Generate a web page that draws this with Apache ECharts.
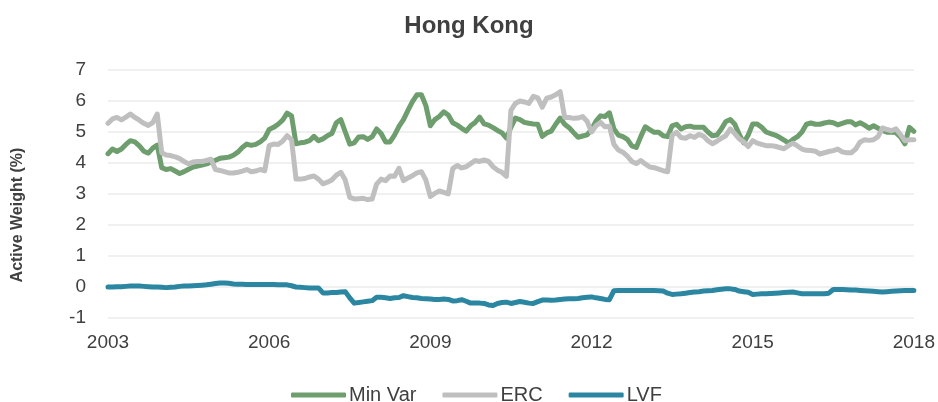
<!DOCTYPE html>
<html>
<head>
<meta charset="utf-8">
<script src="https://cdn.jsdelivr.net/npm/echarts@6/dist/echarts.min.js"></script>
<style>
  html, body { margin: 0; padding: 0; background: #fff; }
  #chart { width: 938px; height: 402px; }
</style>
</head>
<body>
<div id="chart"></div>
<script>
// monthly points, Jan 2003 .. Jan 2018
const months = [];
for (let y = 2003; y <= 2018; y++) {
  for (let m = 1; m <= 12; m++) {
    if (y === 2018 && m > 1) break;
    months.push(y + '-' + String(m).padStart(2, '0'));
  }
}

const minVar = [
  4.30, 4.45, 4.37, 4.45, 4.60, 4.72, 4.68, 4.55, 4.38, 4.32, 4.48, 4.58,
  3.85, 3.79, 3.82, 3.74, 3.66, 3.72, 3.80, 3.87, 3.90, 3.93, 3.97, 4.03,
  4.09, 4.15, 4.17, 4.19, 4.25, 4.35, 4.50, 4.61, 4.57, 4.60, 4.68, 4.80,
  5.08, 5.15, 5.25, 5.38, 5.61, 5.52, 4.62, 4.65, 4.67, 4.72, 4.86, 4.72,
  4.78, 4.88, 4.95, 5.30, 5.40, 5.00, 4.61, 4.65, 4.84, 4.85, 4.76, 4.85,
  5.10, 4.95, 4.68, 4.68, 4.90, 5.18, 5.40, 5.70, 5.98, 6.20, 6.20, 5.85,
  5.20, 5.40, 5.50, 5.65, 5.55, 5.30, 5.22, 5.12, 5.03, 5.20, 5.31, 5.48,
  5.26, 5.22, 5.14, 5.05, 4.97, 4.80, 5.15, 5.45, 5.40, 5.31, 5.28, 5.26,
  5.25, 4.86, 4.97, 5.03, 5.25, 5.45, 5.25, 5.14, 4.98, 4.83, 4.87, 4.91,
  5.08, 5.35, 5.52, 5.50, 5.62, 5.10, 4.90, 4.85, 4.76, 4.55, 4.50, 4.85,
  5.17, 5.08, 4.99, 4.99, 4.88, 4.85, 5.20, 5.25, 5.10, 5.17, 5.19, 5.15,
  5.15, 5.15, 5.00, 4.88, 4.90, 5.10, 5.34, 5.40, 5.25, 4.92, 4.65, 4.90,
  5.26, 5.26, 5.15, 5.00, 4.95, 4.90, 4.83, 4.74, 4.64, 4.76, 4.85, 5.00,
  5.25, 5.29, 5.25, 5.25, 5.29, 5.32, 5.30, 5.23, 5.28, 5.33, 5.33, 5.23,
  5.30, 5.22, 5.12, 5.20, 5.12, 5.05, 4.99, 4.99, 4.98, 4.84, 4.62, 5.15,
  5.02
];

const erc = [
  5.28, 5.42, 5.47, 5.39, 5.48, 5.58, 5.47, 5.38, 5.28, 5.21, 5.30, 5.58,
  4.33, 4.26, 4.24, 4.20, 4.14, 4.05, 3.97, 4.03, 4.05, 4.05, 4.08, 4.12,
  3.79, 3.76, 3.72, 3.68, 3.68, 3.70, 3.74, 3.79, 3.72, 3.74, 3.79, 3.75,
  4.56, 4.61, 4.60, 4.70, 4.88, 4.75, 3.48, 3.48, 3.50, 3.55, 3.58, 3.48,
  3.33, 3.38, 3.45, 3.61, 3.70, 3.45, 2.89, 2.84, 2.85, 2.86, 2.82, 2.84,
  3.32, 3.48, 3.43, 3.58, 3.57, 3.83, 3.43, 3.52, 3.59, 3.68, 3.72, 3.45,
  2.92, 3.02, 3.10, 3.05, 3.00, 3.82, 3.92, 3.84, 3.88, 3.98, 4.08, 4.05,
  4.10, 4.05, 3.88, 3.77, 3.70, 3.57, 5.70, 5.92, 6.00, 5.97, 5.92, 6.15,
  6.10, 5.80, 6.09, 6.13, 6.20, 6.30, 5.47, 5.47, 5.44, 5.45, 5.50, 5.35,
  5.00, 5.20, 5.31, 5.17, 5.19, 4.60, 4.42, 4.35, 4.22, 4.05, 3.98, 4.08,
  3.97, 3.87, 3.85, 3.80, 3.75, 3.72, 4.90, 4.99, 4.82, 4.80, 4.88, 4.83,
  4.92, 4.87, 4.72, 4.62, 4.70, 4.80, 4.88, 5.10, 4.95, 4.78, 4.68, 4.53,
  4.72, 4.64, 4.60, 4.56, 4.56, 4.54, 4.50, 4.46, 4.56, 4.64, 4.55, 4.45,
  4.41, 4.40, 4.38, 4.29, 4.33, 4.37, 4.40, 4.45, 4.36, 4.33, 4.33, 4.45,
  4.68, 4.75, 4.73, 4.75, 4.85, 5.13, 5.08, 5.04, 5.10, 4.92, 4.72, 4.75,
  4.75
];

const lvf = [
  0.00, 0.00, 0.01, 0.01, 0.02, 0.03, 0.03, 0.03, 0.02, 0.01, 0.00, 0.00,
  -0.01, -0.02, -0.01, 0.00, 0.02, 0.03, 0.03, 0.04, 0.05, 0.06, 0.07, 0.09,
  0.11, 0.13, 0.13, 0.12, 0.10, 0.09, 0.09, 0.08, 0.08, 0.08, 0.08, 0.08,
  0.08, 0.08, 0.07, 0.07, 0.07, 0.04, 0.00, -0.01, -0.02, -0.03, -0.03, -0.03,
  -0.19, -0.19, -0.18, -0.18, -0.16, -0.15, -0.35, -0.52, -0.50, -0.48, -0.46, -0.44,
  -0.33, -0.33, -0.35, -0.37, -0.35, -0.34, -0.28, -0.31, -0.34, -0.35, -0.37, -0.38,
  -0.39, -0.40, -0.40, -0.39, -0.40, -0.45, -0.44, -0.41, -0.46, -0.52, -0.52, -0.52,
  -0.53, -0.58, -0.60, -0.53, -0.50, -0.49, -0.53, -0.50, -0.47, -0.49, -0.52, -0.53,
  -0.47, -0.42, -0.42, -0.43, -0.42, -0.40, -0.39, -0.38, -0.38, -0.37, -0.35, -0.33,
  -0.32, -0.35, -0.37, -0.40, -0.41, -0.12, -0.11, -0.11, -0.11, -0.11, -0.11, -0.11,
  -0.11, -0.11, -0.11, -0.12, -0.13, -0.20, -0.24, -0.23, -0.22, -0.20, -0.18, -0.16,
  -0.15, -0.13, -0.12, -0.11, -0.09, -0.07, -0.06, -0.06, -0.08, -0.13, -0.15, -0.17,
  -0.24, -0.23, -0.22, -0.22, -0.21, -0.20, -0.19, -0.18, -0.17, -0.16, -0.19, -0.22,
  -0.22, -0.22, -0.22, -0.22, -0.22, -0.20, -0.08, -0.08, -0.08, -0.09, -0.10, -0.10,
  -0.11, -0.12, -0.13, -0.14, -0.15, -0.16, -0.15, -0.14, -0.13, -0.12, -0.11, -0.11,
  -0.11
];

const seriesNames = ['Min Var', 'ERC', 'LVF'];
const colors = ['#6E9D6E', '#BFBFBF', '#2B86A2'];

const font = '"Liberation Sans", Arial, sans-serif';
const chart = echarts.init(document.getElementById('chart'));

chart.setOption({
  animation: false,
  textStyle: { fontFamily: font },
  title: {
    text: 'Hong Kong',
    left: 'center',
    top: 9,
    textStyle: { fontSize: 24, fontWeight: 'bold', color: '#404040', fontFamily: font }
  },
  // y axis title sits a bit below the plot centre in the original
  graphic: [{
    type: 'text',
    x: 18,
    y: 215,
    rotation: Math.PI / 2,
    style: {
      text: 'Active Weight (%)',
      font: 'bold 16px ' + font,
      fill: '#404040',
      align: 'center',
      verticalAlign: 'middle'
    }
  }],
  legend: {
    data: seriesNames,
    top: 380,
    left: 286,
    icon: 'roundRect',
    itemWidth: 55,
    itemHeight: 5,
    itemGap: 26,
    textStyle: { fontSize: 20, color: '#404040', padding: [0, 0, 0, -2] }
  },
  grid: { left: 108, right: 20, top: 70, bottom: 84 },
  xAxis: {
    type: 'category',
    data: months,
    boundaryGap: false,
    axisLine: { show: false },
    axisTick: { show: false },
    axisLabel: {
      interval: 35,
      color: '#404040',
      fontSize: 19,
      margin: 15,
      formatter: v => v.slice(0, 4)
    },
    splitLine: { show: false }
  },
  yAxis: {
    type: 'value',
    min: -1,
    max: 7,
    interval: 1,
    axisLine: { show: false },
    axisTick: { show: false },
    axisLabel: { color: '#404040', fontSize: 19, margin: 22 },
    splitLine: { lineStyle: { color: '#EBEBEB', width: 1.5 } }
  },
  series: [
    { name: seriesNames[0], data: minVar },
    { name: seriesNames[1], data: erc },
    { name: seriesNames[2], data: lvf }
  ].map((s, i) => ({
    ...s,
    type: 'line',
    showSymbol: false,
    itemStyle: { color: colors[i] },
    lineStyle: { color: colors[i], width: 5, join: 'round', cap: 'round' }
  }))
});
</script>
</body>
</html>
